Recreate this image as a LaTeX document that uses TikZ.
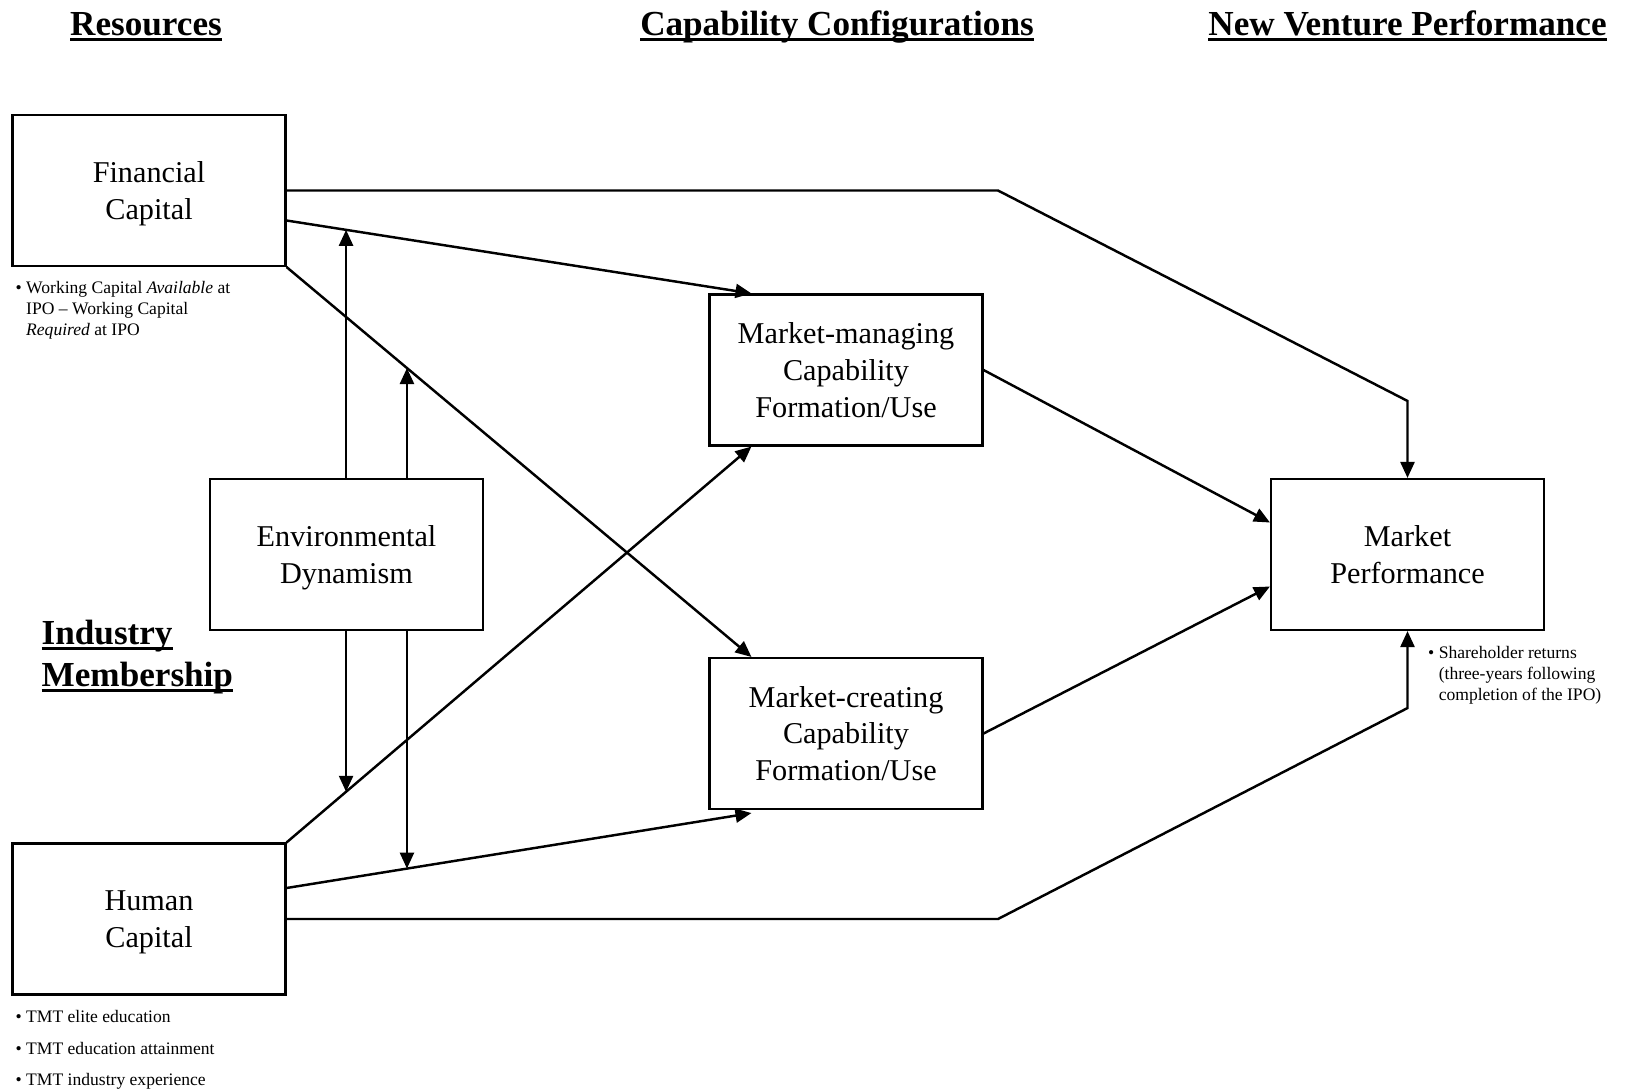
\documentclass[tikz,border=0pt]{standalone}
\usepackage{fontspec}
\setmainfont{Liberation Serif}
\usetikzlibrary{arrows.meta,positioning,calc}
\newcommand{\headul}[1]{\setbox0\hbox{#1}\dp0=0pt\vtop{\box0\kern0.8pt\hrule height 0.9pt}}

\begin{document}
\begin{tikzpicture}[
 every node/.style={align=center},
 box/.style={draw,line width=0.6pt,minimum width=2.73cm,minimum height=1.51cm,inner sep=0pt,text depth=0pt,font=\fontsize{8.6}{10.4}\selectfont},
 heading/.style={font=\fontsize{10}{12}\selectfont\bfseries,inner sep=0pt},
 note/.style={font=\fontsize{5}{5.9}\selectfont,align=left,inner sep=0pt,anchor=north west},
 arrow/.style={-{Triangle[length=1.6mm,width=1.4mm]},line width=0.7pt}
]
\useasboundingbox (0,0) rectangle (16.25,-10.91);
\node[box] (fc) at (1.49,-1.905) {Financial\\Capital};
\node[box] (hc) at (1.49,-9.19) {Human\\Capital};
\node[box] (ed) at (3.465,-5.545) {Environmental\\Dynamism};
\node[box] (mm) at (8.46,-3.70) {Market-managing\\Capability\\Formation/Use};
\node[box] (mc) at (8.46,-7.335) {Market-creating\\Capability\\Formation/Use};
\node[box] (mp) at (14.075,-5.545) {Market\\Performance};
\node[heading,anchor=base] (hres) at (1.46,-0.35) {\headul{Resources}};
\node[heading,anchor=base] (hcap) at (8.37,-0.35) {\headul{Capability Configurations}};
\node[heading,anchor=base] (hnvp) at (mp.north |- hres.base) {\headul{New Venture Performance}};
\node[heading,align=left,anchor=west] (hind) at (0.41,-6.56) {\headul{Industry}\\\headul{Membership}};
\node[note] (fcnote) at ($(fc.south west)+(0.035,-0.14)$) {\textbullet\ Working Capital \textit{Available} at\\\hphantom{\textbullet\ }IPO -- Working Capital\\\hphantom{\textbullet\ }\textit{Required} at IPO};
\node[note] (hcnote) at ($(hc.south west)+(0.035,-0.14)$) {\textbullet\ TMT elite education\\[3.1pt]\textbullet\ TMT education attainment\\[3.1pt]\textbullet\ TMT industry experience};
\node[note] (mpnote) at ($(mp.south)+(0.2,-0.15)$) {\textbullet\ Shareholder returns\\\hphantom{\textbullet\ }(three-years following\\\hphantom{\textbullet\ }completion of the IPO)};
\draw[arrow] (fc.east) -- (9.98,-1.905) -- ($(mp.north)+(0,0.77)$) -- (mp.north);
\draw[arrow] ($(fc.east)+(0,-0.30)$) -- coordinate[pos=0.128] (fm) ($(mm.north west)+(0.43,0)$);
\draw[arrow] (fc.south east) -- coordinate[pos=0.259] (fx) ($(mc.north west)+(0.43,0)$);
\draw[arrow] (hc.north east) -- coordinate[pos=0.128] (hm) ($(mm.south west)+(0.43,0)$);
\draw[arrow] ($(hc.east)+(0,0.31)$) -- coordinate[pos=0.259] (hx) ($(mc.south west)+(0.43,-0.03)$);
\draw[arrow] (hc.east) -- (9.98,-9.19) -- ($(mp.south)+(0,-0.77)$) -- (mp.south);
\draw[arrow] (mm.east) -- ($(mp.west)+(0,0.32)$);
\draw[arrow] (mc.east) -- ($(mp.west)+(0,-0.32)$);
\draw[arrow] (ed.north -| fm) -- (fm);
\draw[arrow] (ed.north -| fx) -- (fx);
\draw[arrow] (ed.south -| hm) -- (hm);
\draw[arrow] (ed.south -| hx) -- (hx);
\end{tikzpicture}
\end{document}
